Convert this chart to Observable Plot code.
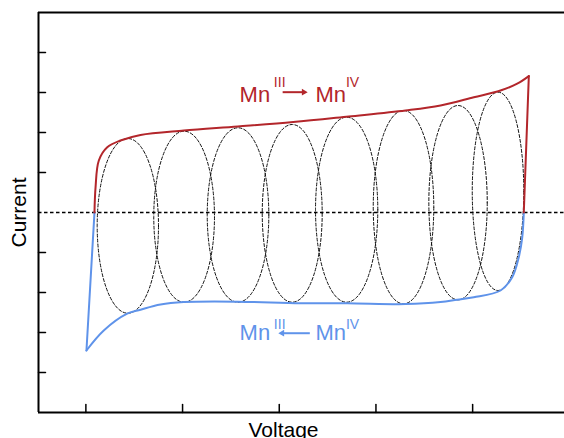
<!DOCTYPE html>
<html>
<head>
<meta charset="utf-8">
<script src="https://cdn.jsdelivr.net/npm/d3@7"></script>
<script src="https://cdn.jsdelivr.net/npm/@observablehq/plot@0.6"></script>
<style>
  html, body { margin: 0; padding: 0; background: #fff; }
  #chart svg { display: block; }
</style>
</head>
<body>
<div id="chart"></div>
<script>
// ---- data ----
const xTicks = [1, 2, 3, 4, 5];
const yTicks = [-4, -3, -2, -1, 1, 2, 3, 4];

// anodic sweep (red), smooth part
const redX = [1.089, 1.100, 1.134, 1.221, 1.358, 1.565, 2.013, 2.571, 3.144, 3.719, 4.306, 4.668, 5.012, 5.288, 5.461, 5.581];
const redY = [0, 0.63, 1.30, 1.63, 1.80, 1.94, 2.05, 2.15, 2.26, 2.40, 2.55, 2.675, 2.88, 3.05, 3.22, 3.41];
// red reversal (straight)
const redTurnX = [5.581, 5.529];
const redTurnY = [3.41, 0];

// cathodic sweep (blue), smooth part
const blueX = [5.529, 5.513, 5.477, 5.409, 5.288, 5.012, 4.840, 4.668, 4.306, 3.703, 3.220, 2.565, 2.013, 1.772, 1.565, 1.427, 1.185, 1.006];
const blueY = [0, -0.62, -1.12, -1.62, -1.95, -2.12, -2.18, -2.24, -2.29, -2.27, -2.27, -2.23, -2.24, -2.30, -2.43, -2.53, -2.95, -3.45];
// blue reversal (straight)
const blueTurnX = [1.006, 1.089];
const blueTurnY = [-3.45, 0];

// dashed ellipses: extents
const ellLeft   = [1.117, 1.702, 2.255, 2.824, 3.375, 3.972, 4.547, 4.996];
const ellRight  = [1.751, 2.330, 2.892, 3.444, 4.019, 4.598, 5.151, 5.529];
const ellTop    = [1.85, 2.033, 2.118, 2.20, 2.383, 2.55, 2.675, 3.008];
const ellBottom = [-2.518, -2.243, -2.243, -2.243, -2.243, -2.283, -2.183, -1.95];

// annotation labels
const labelMain = ["Mn", "Mn"];
const labelMainX = [2.590, 3.375];
const labelSup = ["III", "IV"];
const labelSupX = [2.944, 3.690];
const redLabelY = 2.758, redSupY = 3.15, redArrowY = 3.008;
const blueLabelY = -3.183, blueSupY = -2.90, blueArrowY = -3.018;
const redArrowX = [3.035, 3.254];   // from -> to
const blueArrowX = [3.316, 3.030];  // from -> to

const red = "#b3262b";
const blue = "#5f93ea";

// ---- build tables ----
const redPts = redX.map((x, i) => ({x, y: redY[i]}));
const redTurn = redTurnX.map((x, i) => ({x, y: redTurnY[i]}));
const bluePts = blueX.map((x, i) => ({x, y: blueY[i]}));
const blueTurn = blueTurnX.map((x, i) => ({x, y: blueTurnY[i]}));

const ellPts = [];
ellLeft.forEach((l, i) => {
  const r = ellRight[i], t = ellTop[i], b = ellBottom[i];
  const cx = (l + r) / 2, cy = (t + b) / 2;
  ellPts.push({k: i, x: cx, y: t}, {k: i, x: r, y: cy}, {k: i, x: cx, y: b}, {k: i, x: l, y: cy});
});

const tickUp = {draw(ctx, l) { ctx.moveTo(0, 0); ctx.lineTo(0, -l); }};
const ellipseCurve = d3.curveCardinalClosed.tension(-0.657);

const labelsFor = (yMain, ySup, color) => [
  Plot.text(labelMain, {x: (d, i) => labelMainX[i], y: yMain, text: d => d, textAnchor: "start", lineAnchor: "bottom", fontSize: 22, fill: color}),
  Plot.text(labelSup, {x: (d, i) => labelSupX[i], y: ySup, text: d => d, textAnchor: "start", lineAnchor: "bottom", fontSize: 14, fill: color})
];

const arrowFor = (xs, y, color) => [
  Plot.link([0], {x1: xs[0], x2: xs[1], y1: y, y2: y, stroke: color, strokeWidth: 2}),
  Plot.dot([0], {x: xs[1], y: y, symbol: "triangle2", r: 3.2, fill: color, stroke: null, rotate: xs[1] > xs[0] ? 90 : -90})
];

const chart = Plot.plot({
  width: 564,
  height: 438,
  marginLeft: 38,
  marginRight: 0,
  marginTop: 12,
  marginBottom: 26,
  style: {fontFamily: "'Liberation Sans', Arial, Helvetica, sans-serif", background: "#fff"},
  x: {domain: [0.51, 5.95], axis: null},
  y: {domain: [-5, 5], axis: null},
  marks: [
    // dashed ellipses
    Plot.line(ellPts, {x: "x", y: "y", z: "k", curve: ellipseCurve, stroke: "#111", strokeWidth: 1, strokeDasharray: "3,2"}),
    // zero line
    Plot.ruleY([0], {stroke: "#000", strokeWidth: 1.6, strokeDasharray: "3.5,2.5"}),
    // curves
    Plot.line(bluePts, {x: "x", y: "y", curve: "catmull-rom", stroke: blue, strokeWidth: 2}),
    Plot.line(blueTurn, {x: "x", y: "y", stroke: blue, strokeWidth: 2}),
    Plot.line(redPts, {x: "x", y: "y", curve: "catmull-rom", stroke: red, strokeWidth: 2}),
    Plot.line(redTurn, {x: "x", y: "y", stroke: red, strokeWidth: 2}),
    // annotations
    ...labelsFor(redLabelY, redSupY, red),
    ...arrowFor(redArrowX, redArrowY, red),
    ...labelsFor(blueLabelY, blueSupY, blue),
    ...arrowFor(blueArrowX, blueArrowY, blue),
    // frame
    Plot.ruleY([5, -5], {stroke: "#000", strokeWidth: 2}),
    Plot.ruleX([0.51], {stroke: "#000", strokeWidth: 2}),
    // ticks
    Plot.vector(xTicks, {x: d => d, frameAnchor: "bottom", length: 8, rotate: 0, anchor: "start", shape: tickUp, stroke: "#000", strokeWidth: 1.5}),
    Plot.vector(yTicks, {y: d => d, frameAnchor: "left", length: 7, rotate: 90, anchor: "start", shape: tickUp, stroke: "#000", strokeWidth: 1.5}),
    // axis titles
    Plot.text(["Voltage"], {frameAnchor: "bottom", x: 3.044, dy: 24, textAnchor: "middle", lineAnchor: "bottom", fontSize: 21, fill: "#000"}),
    Plot.text(["Current"], {frameAnchor: "left", y: 0, dx: -19, rotate: -90, textAnchor: "middle", fontSize: 21, fill: "#000"})
  ]
});
document.getElementById("chart").appendChild(chart);
</script>
</body>
</html>
